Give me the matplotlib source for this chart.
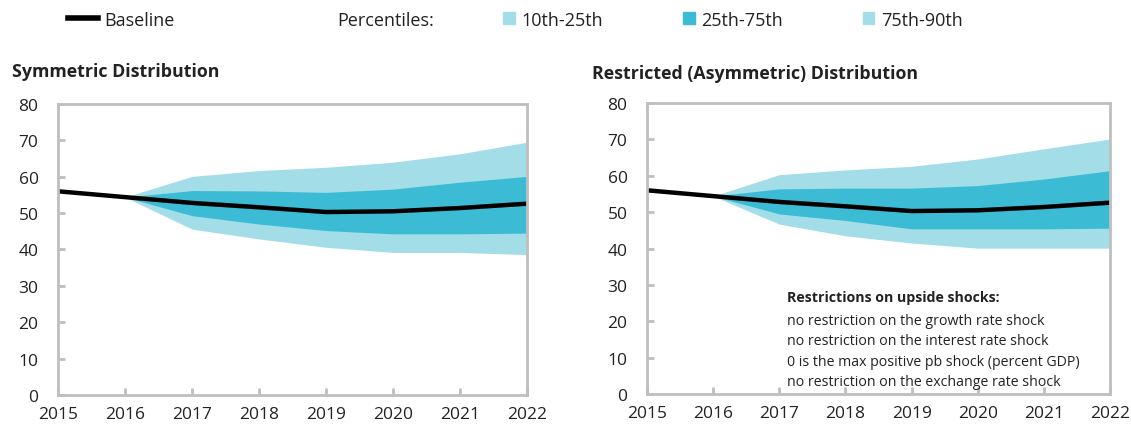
#!/usr/bin/env python3
"""
Debt fan charts: symmetric vs restricted (asymmetric) distribution.
"""
import matplotlib
matplotlib.use("Agg")
import matplotlib.pyplot as plt
from matplotlib.lines import Line2D
from matplotlib.patches import Patch

# --------------------------------- DATA --------------------------------------
years = [2015, 2016, 2017, 2018, 2019, 2020, 2021, 2022]
fan_years = [2016, 2017, 2018, 2019, 2020, 2021, 2022]

baseline = [56.0, 54.4, 52.8, 51.6, 50.3, 50.5, 51.4, 52.6]

# symmetric distribution percentiles
sym_p10 = [54.4, 45.6, 42.9, 40.6, 39.2, 39.2, 38.6]
sym_p25 = [54.4, 49.3, 47.0, 45.2, 44.3, 44.3, 44.5]
sym_p75 = [54.4, 56.2, 56.1, 55.7, 56.6, 58.5, 60.1]
sym_p90 = [54.4, 60.1, 61.7, 62.6, 64.0, 66.3, 69.5]

# restricted (asymmetric) distribution percentiles
asy_p10 = [54.4, 46.7, 43.5, 41.5, 40.1, 40.1, 40.1]
asy_p25 = [54.4, 49.5, 47.7, 45.4, 45.4, 45.4, 45.6]
asy_p75 = [54.4, 56.4, 56.6, 56.6, 57.3, 59.1, 61.4]
asy_p90 = [54.4, 60.3, 61.6, 62.6, 64.6, 67.4, 70.1]

titles = ["Symmetric Distribution", "Restricted (Asymmetric) Distribution"]
legend_labels = ["10th-25th", "25th-75th", "75th-90th"]
note_title = "Restrictions on upside shocks:"
note_lines = [
    "no restriction on the growth rate shock",
    "no restriction on the interest rate shock",
    "0 is the max positive pb shock (percent GDP)",
    "no restriction on the exchange rate shock",
]
# --------------------------------- DATA --------------------------------------

LIGHT = "#a3dde8"
MID = "#3bbcd4"
FRAME = "#bfbfbf"
TEXT = "#222222"

plt.rcParams["font.family"] = ["Open Sans", "DejaVu Sans"]


def fan_panel(ax, p10, p25, p75, p90):
    ax.fill_between(fan_years, p10, p90, color=LIGHT, linewidth=0)
    ax.fill_between(fan_years, p25, p75, color=MID, linewidth=0)
    ax.plot(years, baseline, color="black", linewidth=3.2,
            solid_capstyle="butt")
    ax.set_xlim(years[0], years[-1])
    ax.set_ylim(0, 80)
    ax.set_xticks(years)
    ax.set_yticks(range(0, 81, 10))
    for spine in ax.spines.values():
        spine.set_color(FRAME)
        spine.set_linewidth(2)
    ax.tick_params(axis="both", direction="in", length=5, width=2,
                   color=FRAME, labelsize=12.5, labelcolor=TEXT)
    ax.tick_params(axis="y", pad=14)
    ax.tick_params(axis="x", pad=8)


fig = plt.figure(figsize=(11.31, 4.31), dpi=100)
ax1 = fig.add_axes([0.0513, 0.0812, 0.4147, 0.6752])
ax2 = fig.add_axes([0.5721, 0.0835, 0.4093, 0.6752])

fan_panel(ax1, sym_p10, sym_p25, sym_p75, sym_p90)
fan_panel(ax2, asy_p10, asy_p25, asy_p75, asy_p90)

fig.text(0.0106, 0.833, titles[0], fontsize=12.8, fontweight="bold",
         color=TEXT, va="center")
fig.text(0.523, 0.829, titles[1], fontsize=12.8, fontweight="bold",
         color=TEXT, va="center")

# note block inside the right panel
fig.text(0.696, 0.309, note_title, fontsize=10.2, fontweight="bold",
         color=TEXT, va="center")
for i, line in enumerate(note_lines):
    fig.text(0.696, 0.255 - i * 0.0475, line, fontsize=10.2,
             color=TEXT, va="center")

# top legend row
base_handle = [Line2D([0], [0], color="black", linewidth=4)]
fig.legend(base_handle, ["Baseline"], loc="center left",
           bbox_to_anchor=(0.046, 0.952), frameon=False, fontsize=13,
           handlelength=1.67, handletextpad=0.33, labelcolor=TEXT)
fig.text(0.298, 0.952, "Percentiles:", fontsize=13, color=TEXT,
         va="center")
band_handles = [Patch(color=LIGHT), Patch(color=MID), Patch(color=LIGHT)]
fig.legend(band_handles, legend_labels, loc="center left",
           bbox_to_anchor=(0.4306, 0.952), frameon=False, fontsize=13,
           ncol=3, handlelength=0.65, handleheight=0.65, handletextpad=0.38,
           columnspacing=4.4, labelcolor=TEXT)

fig.savefig("out.png", dpi=100)
